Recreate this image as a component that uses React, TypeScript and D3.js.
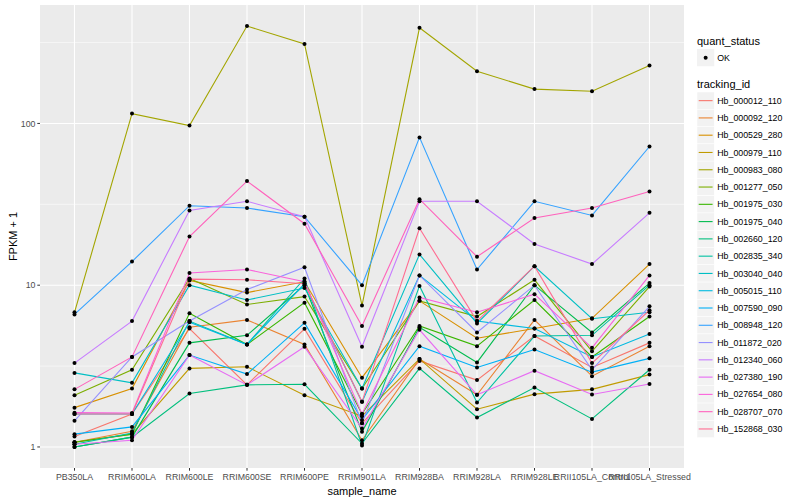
import { useEffect, useRef } from "react";
import * as d3 from "d3";

const samples = [
  "PB350LA", "RRIM600LA", "RRIM600LE", "RRIM600SE", "RRIM600PE", "RRIM901LA",
  "RRIM928BA", "RRIM928LA", "RRIM928LE", "RRII105LA_Control", "RRII105LA_Stressed",
];

const trackingIds = [
  "Hb_000012_110", "Hb_000092_120", "Hb_000529_280", "Hb_000979_110", "Hb_000983_080",
  "Hb_001277_050", "Hb_001975_030", "Hb_001975_040", "Hb_002660_120", "Hb_002835_340",
  "Hb_003040_040", "Hb_005015_110", "Hb_007590_090", "Hb_008948_120", "Hb_011872_020",
  "Hb_012340_060", "Hb_027380_190", "Hb_027654_080", "Hb_028707_070", "Hb_152868_030",
];

// FPKM + 1, one row per tracking_id, one value per sample
const hb000012 = [1.16, 1.6, 5.4, 2.42, 5.37, 1.4, 3.4, 2.59, 4.85, 3.1, 4.4];
const hb000092 = [1.07, 1.25, 5.5, 6.1, 4.3, 1.1, 3.5, 2.1, 6.1, 2.74, 4.2];
const hb000529 = [1.75, 2.3, 10.7, 9.0, 10.5, 2.68, 8.0, 4.7, 5.4, 6.24, 13.5];
const hb000979 = [1.07, 1.2, 3.06, 3.13, 2.09, 1.55, 3.5, 1.71, 2.12, 2.27, 2.8];
const hb000983 = [6.8, 115, 97, 400, 310, 7.5, 390, 210, 163, 158, 228];
const hb001277 = [2.09, 3.0, 11, 7.6, 8.5, 2.3, 8.0, 6.4, 10.8, 3.9, 9.8];
const hb001975a = [1.07, 1.2, 6.7, 4.3, 7.8, 1.6, 5.6, 4.2, 8.1, 3.6, 6.4];
const hb001975b = [1.0, 1.15, 4.4, 4.9, 10.0, 1.24, 5.5, 3.33, 10, 5.1, 10.3];
const hb002660 = [1.0, 1.15, 2.14, 2.42, 2.44, 1.05, 3.06, 1.52, 2.33, 1.49, 3.0];
const hb002835 = [1.04, 1.22, 6.0, 4.3, 11, 1.02, 9.9, 1.88, 4.85, 4.9, 10];
const hb003040 = [2.87, 2.49, 10, 8.1, 9.6, 2.3, 15.5, 5.8, 13.1, 6.2, 6.8];
const hb005015 = [1.6, 1.6, 5.9, 4.3, 10.2, 1.9, 11.5, 6.0, 5.4, 3.6, 5.0];
const hb007590 = [1.2, 1.33, 3.7, 2.82, 5.85, 1.47, 4.2, 3.1, 4.0, 2.9, 3.53];
const hb008948 = [6.6, 14, 31, 30, 26.5, 10, 82, 12.5, 33, 27, 72];
const hb011872 = [1.45, 3.6, 6.0, 9.4, 12.9, 1.4, 11.5, 5.1, 10, 3.0, 7.4];
const hb012340 = [3.3, 6.0, 29, 33, 26.5, 4.16, 33, 33, 18, 13.5, 28];
const hb027380 = [1.04, 1.1, 3.7, 2.42, 4.16, 1.3, 5.3, 2.1, 2.96, 2.11, 2.45];
const hb027654 = [1.63, 1.62, 11.9, 12.5, 10.5, 1.6, 8.4, 6.8, 8.8, 4.1, 11.5];
const hb028707 = [2.27, 3.6, 20, 44, 24, 5.6, 34, 15, 26, 30, 38];
const hb152868 = [1.6, 1.6, 10.9, 10.8, 10.2, 1.9, 22.5, 6.0, 13.1, 3.3, 7.0];

const seriesValues = [
  hb000012, hb000092, hb000529, hb000979, hb000983, hb001277, hb001975a, hb001975b,
  hb002660, hb002835, hb003040, hb005015, hb007590, hb008948, hb011872, hb012340,
  hb027380, hb027654, hb028707, hb152868,
];

const yTicks = [1, 10, 100];

const palette = [
  "#F8766D", "#EA8331", "#D89000", "#C09B00", "#A3A500", "#7CAE00", "#39B600",
  "#00BB4E", "#00BF7D", "#00C1A3", "#00BFC4", "#00BAE0", "#00B0F6", "#35A2FF",
  "#9590FF", "#C77CFF", "#E76BF3", "#FA62DB", "#FF62BC", "#FF6C91",
];

const width = 800;
const height = 500;
const font = "'Liberation Sans', Arial, sans-serif";

export default function App() {
  const svgRef = useRef<SVGSVGElement>(null);

  useEffect(() => {
    if (!svgRef.current) return;
    const svg = d3.select(svgRef.current);
    svg.selectAll("*").remove();

    const panel = { left: 40, top: 5, right: 684, bottom: 468 };

    const series = trackingIds.map((id, i) => ({
      id,
      color: palette[i],
      points: samples.map((s, j) => ({ sample: s, value: seriesValues[i][j] })),
    }));

    const all = seriesValues.flat();
    const lo = Math.log10(d3.min(all) || 1);
    const hi = Math.log10(d3.max(all) || 10);
    const pad = (hi - lo) * 0.05;

    const x = d3
      .scalePoint<string>()
      .domain(samples)
      .range([panel.left, panel.right])
      .padding(0.6);

    const y = d3
      .scaleLog()
      .domain([Math.pow(10, lo - pad), Math.pow(10, hi + pad)])
      .range([panel.bottom, panel.top]);

    svg.append("rect").attr("width", width).attr("height", height).attr("fill", "white");

    // panel
    svg.append("rect")
      .attr("x", panel.left)
      .attr("y", panel.top)
      .attr("width", panel.right - panel.left)
      .attr("height", panel.bottom - panel.top)
      .attr("fill", "#EBEBEB");

    // minor grid (half decades)
    const minor = [-0.5, 0.5, 1.5, 2.5, 3.5]
      .map(e => Math.pow(10, e))
      .filter(v => y(v) >= panel.top && y(v) <= panel.bottom);
    svg.append("g").selectAll("line")
      .data(minor)
      .enter()
      .append("line")
      .attr("x1", panel.left)
      .attr("x2", panel.right)
      .attr("y1", d => y(d))
      .attr("y2", d => y(d))
      .attr("stroke", "white")
      .attr("stroke-width", 0.55);

    // major grid
    svg.append("g").selectAll("line")
      .data(yTicks)
      .enter()
      .append("line")
      .attr("x1", panel.left)
      .attr("x2", panel.right)
      .attr("y1", d => y(d))
      .attr("y2", d => y(d))
      .attr("stroke", "white")
      .attr("stroke-width", 1.1);

    svg.append("g").selectAll("line")
      .data(samples)
      .enter()
      .append("line")
      .attr("x1", d => x(d) || 0)
      .attr("x2", d => x(d) || 0)
      .attr("y1", panel.top)
      .attr("y2", panel.bottom)
      .attr("stroke", "white")
      .attr("stroke-width", 1.1);

    // lines
    const line = d3
      .line<{ sample: string; value: number }>()
      .x(d => x(d.sample) || 0)
      .y(d => y(d.value));

    svg.append("g").selectAll("path")
      .data(series)
      .enter()
      .append("path")
      .attr("fill", "none")
      .attr("stroke", d => d.color)
      .attr("stroke-width", 1.1)
      .attr("d", d => line(d.points));

    // points
    svg.append("g").selectAll("circle")
      .data(series.flatMap(s => s.points))
      .enter()
      .append("circle")
      .attr("cx", d => x(d.sample) || 0)
      .attr("cy", d => y(d.value))
      .attr("r", 2)
      .attr("fill", "black");

    // y axis
    const yAxis = svg.append("g");
    yAxis.selectAll("line")
      .data(yTicks)
      .enter()
      .append("line")
      .attr("x1", panel.left - 2.7)
      .attr("x2", panel.left)
      .attr("y1", d => y(d))
      .attr("y2", d => y(d))
      .attr("stroke", "#333333")
      .attr("stroke-width", 1);
    yAxis.selectAll("text")
      .data(yTicks)
      .enter()
      .append("text")
      .attr("x", panel.left - 4.5)
      .attr("y", d => y(d))
      .attr("dy", "0.35em")
      .attr("text-anchor", "end")
      .attr("font-family", font)
      .attr("font-size", 8.8)
      .attr("fill", "#4D4D4D")
      .text(d => String(d));

    // x axis
    const xAxis = svg.append("g");
    xAxis.selectAll("line")
      .data(samples)
      .enter()
      .append("line")
      .attr("x1", d => x(d) || 0)
      .attr("x2", d => x(d) || 0)
      .attr("y1", panel.bottom)
      .attr("y2", panel.bottom + 2.7)
      .attr("stroke", "#333333")
      .attr("stroke-width", 1);
    xAxis.selectAll("text")
      .data(samples)
      .enter()
      .append("text")
      .attr("x", d => x(d) || 0)
      .attr("y", panel.bottom + 12)
      .attr("text-anchor", "middle")
      .attr("font-family", font)
      .attr("font-size", 8.8)
      .attr("fill", "#4D4D4D")
      .text(d => d);

    svg.append("text")
      .attr("x", (panel.left + panel.right) / 2)
      .attr("y", 495)
      .attr("text-anchor", "middle")
      .attr("font-family", font)
      .attr("font-size", 11)
      .attr("fill", "black")
      .text("sample_name");

    svg.append("text")
      .attr("transform", `translate(17,${(panel.top + panel.bottom) / 2}) rotate(-90)`)
      .attr("text-anchor", "middle")
      .attr("font-family", font)
      .attr("font-size", 11)
      .attr("fill", "black")
      .text("FPKM + 1");

    // legends
    const lx = 697;
    const keySize = 17.28;
    const legend = svg.append("g").attr("font-family", font);

    legend.append("text")
      .attr("x", lx)
      .attr("y", 45)
      .attr("font-size", 11)
      .text("quant_status");
    legend.append("rect")
      .attr("x", lx)
      .attr("y", 49)
      .attr("width", keySize)
      .attr("height", keySize)
      .attr("fill", "#F2F2F2");
    legend.append("circle")
      .attr("cx", lx + keySize / 2)
      .attr("cy", 49 + keySize / 2)
      .attr("r", 2)
      .attr("fill", "black");
    legend.append("text")
      .attr("x", lx + keySize + 3)
      .attr("y", 49 + keySize / 2)
      .attr("dy", "0.35em")
      .attr("font-size", 8.8)
      .text("OK");

    legend.append("text")
      .attr("x", lx)
      .attr("y", 88)
      .attr("font-size", 11)
      .text("tracking_id");

    const keys = legend.selectAll(".key")
      .data(series)
      .enter()
      .append("g")
      .attr("class", "key")
      .attr("transform", (d, i) => `translate(${lx},${92 + i * keySize})`);
    keys.append("rect")
      .attr("width", keySize)
      .attr("height", keySize)
      .attr("fill", "#F2F2F2")
      .attr("stroke", "white")
      .attr("stroke-width", 0.5);
    keys.append("line")
      .attr("x1", 1.7)
      .attr("x2", keySize - 1.7)
      .attr("y1", keySize / 2)
      .attr("y2", keySize / 2)
      .attr("stroke", d => d.color)
      .attr("stroke-width", 1.1);
    keys.append("text")
      .attr("x", keySize + 3)
      .attr("y", keySize / 2)
      .attr("dy", "0.35em")
      .attr("font-size", 8.8)
      .text(d => d.id);
  }, []);

  return (
    <svg
      ref={svgRef}
      width={width}
      height={height}
      style={{ position: "absolute", left: 0, top: 0 }}
    ></svg>
  );
}
